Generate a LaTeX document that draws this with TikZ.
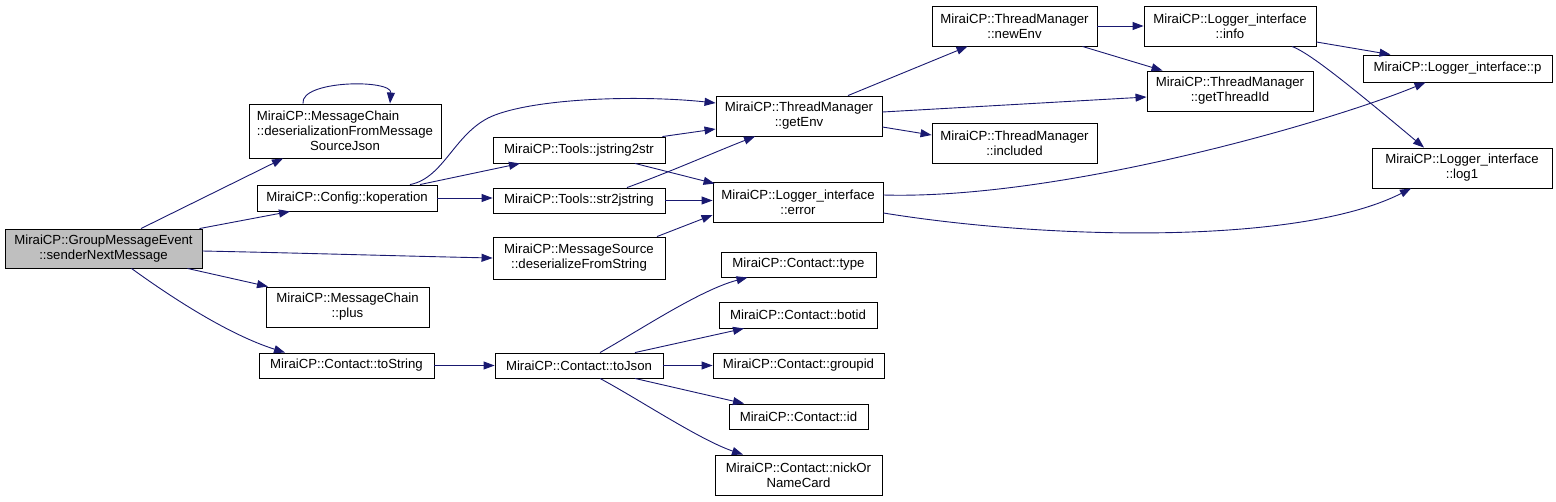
\documentclass[tikz,border=0pt]{standalone}
\usepackage{fontspec}
\setmainfont{Liberation Sans}
\usetikzlibrary{arrows.meta}
\definecolor{edgeblue}{HTML}{191970}
\definecolor{rootgray}{HTML}{BFBFBF}
\begin{document}
\begin{tikzpicture}[x=1pt,y=-1pt,
  box/.style={draw=black, line width=0.9pt, inner sep=0pt, align=center,
    font=\fontsize{13.2}{15}\selectfont},
  edge/.style={draw=edgeblue, line width=0.9pt, -{Triangle[length=11pt,width=8pt]}}]
\useasboundingbox (0,0) rectangle (1556,501);
% nodes
\node[box, fill=rootgray, minimum width=197pt, minimum height=39pt] (root) at (103.5,248.5) {MiraiCP::GroupMessageEvent\\::senderNextMessage};
\node[box, minimum width=192pt, minimum height=54pt] (dfmsj) at (345,131) {\rlap{MiraiCP::MessageChain}\phantom{::deserializationFromMessage}\\::deserializationFromMessage\\SourceJson};
\node[box, minimum width=180pt, minimum height=26pt] (kop) at (347,198) {MiraiCP::Config::koperation};
\node[box, minimum width=163pt, minimum height=40pt] (plus) at (347.5,307) {MiraiCP::MessageChain\\::plus};
\node[box, minimum width=175pt, minimum height=25pt] (tostr) at (346.5,365.5) {MiraiCP::Contact::toString};
\node[box, minimum width=172pt, minimum height=26pt] (j2s) at (579,150) {MiraiCP::Tools::jstring2str};
\node[box, minimum width=172pt, minimum height=25pt] (s2j) at (579,200.5) {MiraiCP::Tools::str2jstring};
\node[box, minimum width=172pt, minimum height=42pt] (dfs) at (579,258) {MiraiCP::MessageSource\\::deserializeFromString};
\node[box, minimum width=168pt, minimum height=25pt] (tojson) at (579,365.5) {MiraiCP::Contact::toJson};
\node[box, minimum width=166pt, minimum height=40pt] (getenv) at (799,116) {MiraiCP::ThreadManager\\::getEnv};
\node[box, minimum width=170pt, minimum height=40pt] (error) at (798,202) {MiraiCP::Logger\_interface\\::error};
\node[box, minimum width=155pt, minimum height=25pt] (type) at (798.5,264.5) {MiraiCP::Contact::type};
\node[box, minimum width=158pt, minimum height=26pt] (botid) at (798,315) {MiraiCP::Contact::botid};
\node[box, minimum width=171pt, minimum height=25pt] (groupid) at (798.5,365.5) {MiraiCP::Contact::groupid};
\node[box, minimum width=139pt, minimum height=25pt] (id) at (798.5,416.5) {MiraiCP::Contact::id};
\node[box, minimum width=167pt, minimum height=40pt] (nick) at (798.5,475) {MiraiCP::Contact::nickOr\\NameCard};
\node[box, minimum width=165pt, minimum height=40pt] (newenv) at (1014.5,26) {MiraiCP::ThreadManager\\::newEnv};
\node[box, minimum width=165pt, minimum height=40pt] (included) at (1014.5,143) {MiraiCP::ThreadManager\\::included};
\node[box, minimum width=172pt, minimum height=40pt] (info) at (1230,26) {MiraiCP::Logger\_interface\\::info};
\node[box, minimum width=166pt, minimum height=40pt] (gettid) at (1230,91) {MiraiCP::ThreadManager\\::getThreadId};
\node[box, minimum width=189pt, minimum height=27pt] (p) at (1457.5,68.5) {MiraiCP::Logger\_interface::p};
\node[box, minimum width=180pt, minimum height=40pt] (log1) at (1462,168) {MiraiCP::Logger\_interface\\::log1};
% edges from root
\draw[edge] ([xshift=37.5pt]root.north) -- ([xshift=-62pt]dfmsj.south);
\draw[edge] ([xshift=96pt]root.north) -- ([xshift=-57pt]kop.south);
\draw[edge] ([yshift=-2.5pt]root.east) .. controls (300,253) and (400,256) .. (dfs.west);
\draw[edge] ([xshift=84pt]root.south) -- ([xshift=-79.5pt]plus.north);
\draw[edge] ([xshift=28pt]root.south) .. controls (175,300) and (230,335) .. ([xshift=-61.5pt]tostr.north);
% self loop
\draw[edge] ([xshift=-42pt]dfmsj.north) .. controls (300,80) and (392,79) .. ([xshift=45pt]dfmsj.north);
% koperation
\draw[edge] ([xshift=63pt]kop.north) .. controls (445,178) and (455,130) .. (495,115) .. controls (540,98) and (640,95) .. ([yshift=13pt]getenv.west);
\draw[edge] ([xshift=73pt]kop.north) -- ([xshift=-59pt]j2s.south);
\draw[edge] (kop.east) -- (kop.east -| s2j.west);
% tools
\draw[edge] ([xshift=-3pt]j2s.north east) -- ([yshift=-13pt]getenv.west);
\draw[edge] ([xshift=56pt]j2s.south) -- ([xshift=2pt,yshift=-2pt]error.north west);
\draw[edge] ([xshift=48pt]s2j.north) .. controls (670,172) and (715,152) .. ([xshift=-44pt]getenv.south);
\draw[edge] (s2j.east) -- (s2j.east -| error.west);
\draw[edge] ([xshift=78pt]dfs.north) -- ([yshift=-13pt]error.west);
% getEnv
\draw[edge] ([xshift=49pt]getenv.north) -- ([xshift=-47pt]newenv.south);
\draw[edge] ([yshift=4pt]getenv.east) -- ([yshift=-6pt]gettid.west);
\draw[edge] ([yshift=-11pt]getenv.east) -- ([yshift=8pt]included.west);
% error
\draw[edge] ([yshift=7pt]error.east) .. controls (1060,200) and (1330,122) .. ([xshift=-32pt]p.south);
\draw[edge] ([yshift=-11pt]error.east) .. controls (1050,240) and (1300,245) .. ([xshift=-51pt]log1.south);
% newEnv / info
\draw[edge] (newenv.east) -- (info.west);
\draw[edge] ([xshift=-15pt]newenv.south east) -- ([xshift=16pt]gettid.north west);
\draw[edge] ([yshift=-16pt]info.east) -- ([xshift=-67pt]p.north);
\draw[edge] ([xshift=62pt]info.south) .. controls (1310,53) and (1354,89) .. ([xshift=-38pt]log1.north);
% contact
\draw[edge] (tostr.east) -- (tojson.west);
\draw[edge] ([xshift=21pt]tojson.north) .. controls (640,330) and (700,290) .. ([xshift=-51pt]type.south);
\draw[edge] ([xshift=56pt]tojson.north) -- ([xshift=-54pt]botid.south);
\draw[edge] (tojson.east) -- (groupid.west);
\draw[edge] ([xshift=56pt]tojson.south) -- ([xshift=-54.5pt]id.north);
\draw[edge] ([xshift=21pt]tojson.south) .. controls (640,400) and (700,440) .. ([xshift=-55.5pt]nick.north);
\end{tikzpicture}
\end{document}
